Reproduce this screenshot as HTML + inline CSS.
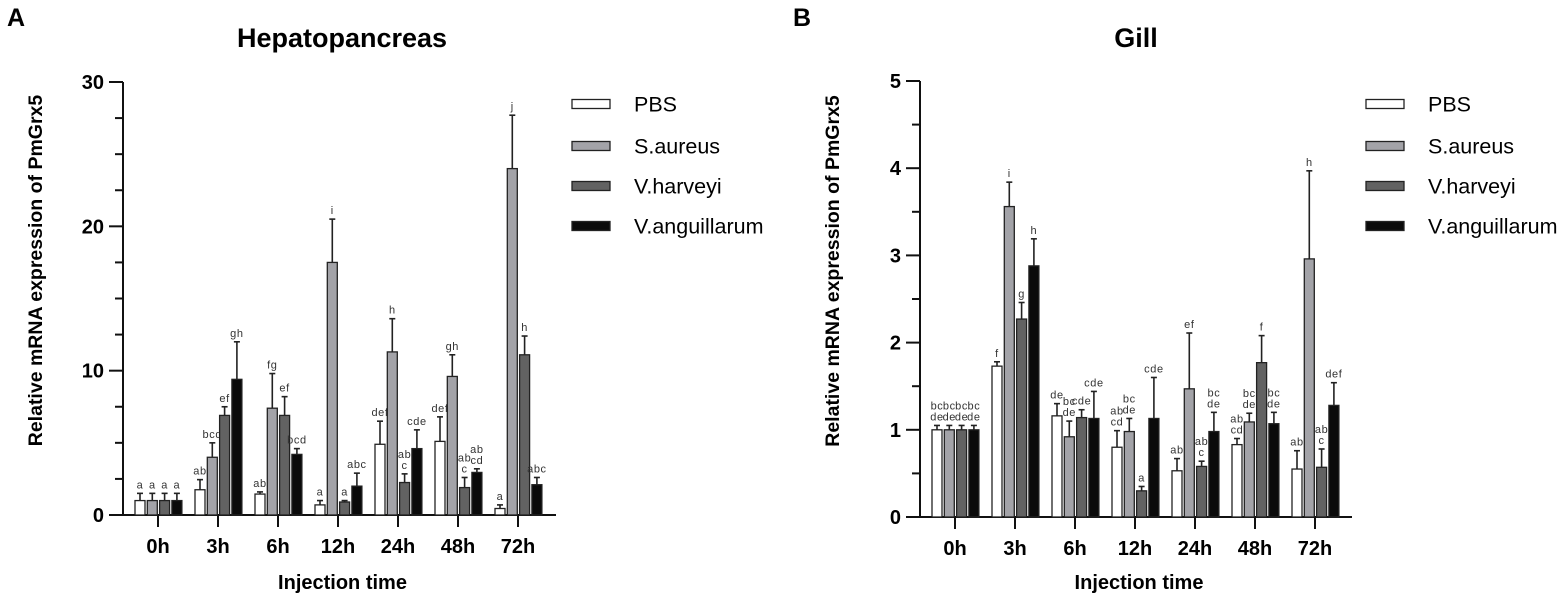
<!DOCTYPE html>
<html><head><meta charset="utf-8"><style>
body{margin:0;background:#fff;width:1559px;height:594px;overflow:hidden}
svg{display:block;font-family:"Liberation Sans",Arial,sans-serif}
</style></head><body>
<svg id="c" width="1559" height="594" xmlns="http://www.w3.org/2000/svg"></svg>
<script>
const categories=["0h","3h","6h","12h","24h","48h","72h"];
const seriesNames=["PBS","S.aureus","V.harveyi","V.anguillarum"];
const colors=["#ffffff","#a3a3a8","#626262","#0a0a0a"];
// Panel A values [series][category]
const hepPBS=[1,1.75,1.45,0.7,4.9,5.1,0.45];
const hepSA=[1,4.0,7.4,17.5,11.3,9.6,24.0];
const hepVH=[1,6.9,6.9,0.9,2.25,1.9,11.1];
const hepVA=[1,9.4,4.2,2.0,4.6,2.95,2.1];
const hepPBSerr=[1.5,2.45,1.6,1.0,6.5,6.8,0.7];
const hepSAerr=[1.5,5.0,9.8,20.5,13.6,11.1,27.7];
const hepVHerr=[1.5,7.5,8.2,1.0,2.85,2.6,12.4];
const hepVAerr=[1.5,12.0,4.6,2.9,5.9,3.2,2.6];
const hepLabels=[["a","ab","ab","a","def","def","a"],["a","bcd","fg","i","h","gh","j"],["a","ef","ef","a","ab|c","ab|c","h"],["a","gh","bcd","abc","cde","ab|cd","abc"]];
// Panel B values
const gilPBS=[1,1.73,1.16,0.8,0.53,0.83,0.55];
const gilSA=[1,3.56,0.92,0.98,1.47,1.09,2.96];
const gilVH=[1,2.27,1.14,0.3,0.58,1.77,0.57];
const gilVA=[1,2.88,1.13,1.13,0.98,1.07,1.28];
const gilPBSerr=[1.05,1.78,1.3,0.99,0.67,0.9,0.76];
const gilSAerr=[1.05,3.84,1.1,1.13,2.11,1.19,3.97];
const gilVHerr=[1.05,2.46,1.23,0.35,0.64,2.08,0.78];
const gilVAerr=[1.05,3.19,1.44,1.6,1.2,1.2,1.54];
const gilLabels=[["bc|de","f","de","ab|cd","ab","ab|cd","ab"],["bc|de","i","bc|de","bc|de","ef","bc|de","h"],["bc|de","g","cde","a","ab|c","f","ab|c"],["bc|de","h","cde","cde","bc|de","bc|de","def"]];
const hepTicks=[0,10,20,30];
const gilTicks=[0,1,2,3,4,5];

const svg=document.getElementById('c');
const NS="http://www.w3.org/2000/svg";
function mk(tag,attrs,txt){const e=document.createElementNS(NS,tag);for(const k in attrs)e.setAttribute(k,attrs[k]);if(txt!==undefined)e.textContent=txt;svg.appendChild(e);return e;}

function panel(o){
  const yS=v=>o.y0-(v/o.max)*(o.y0-o.yTop);
  const xS=i=>o.x0+35+i*60;
  let e;
  e=mk('text',{x:o.letterX,y:26,'font-size':25,'font-weight':'bold'},o.letter);
  
  
  e=mk('text',{x:o.titleX,y:47,'font-size':27,'font-weight':'bold','text-anchor':'middle'},o.title);
  
  
  e=mk('line',{x1:o.x0,y1:o.yTop,x2:o.x0,y2:o.y0,stroke:'#111','stroke-width':2});
  
  
  for(let v=0;v<=o.max+1e-9;v+=o.minor){
    const major=o.ticks.some(t=>Math.abs(t-v)<1e-9);
    e=mk('line',{x1:o.x0-(major?14:8),y1:yS(v),x2:o.x0,y2:yS(v),stroke:'#111','stroke-width':2});
    
    
  }
  o.ticks.forEach(t=>{
    e=mk('text',{x:o.x0-19,y:yS(t)+7,'font-size':20,'font-weight':'bold','text-anchor':'end'},t);
    
    
  });
  e=mk('text',{x:0,y:0,'font-size':19.5,'font-weight':'bold','text-anchor':'middle',transform:`translate(${o.x0-81},${(o.yTop+o.y0)/2-28}) rotate(-90)`},'Relative mRNA expression of PmGrx5');
  
  
  e=mk('line',{x1:o.x0,y1:o.y0,x2:o.xEnd,y2:o.y0,stroke:'#111','stroke-width':2});
  
  
  categories.forEach((c,i)=>{
    e=mk('line',{x1:xS(i),y1:o.y0,x2:xS(i),y2:o.y0+12,stroke:'#111','stroke-width':2});
    
    
    e=mk('text',{x:xS(i),y:o.y0+38,'font-size':20,'font-weight':'bold','text-anchor':'middle'},c);
    
    
  });
  e=mk('text',{x:(o.x0+o.xEnd)/2+3,y:589,'font-size':20,'font-weight':'bold','text-anchor':'middle'},'Injection time');
  
  
  o.vals.forEach((ser,s)=>{
    ser.forEach((v,i)=>{
      const bx=xS(i)-23+s*12.3;
      const top=yS(v), et=yS(o.errs[s][i]);
      const cx=bx+5;
      e=mk('line',{x1:cx,y1:top,x2:cx,y2:et,stroke:'#222','stroke-width':1.6});
      
      
      e=mk('line',{x1:cx-3,y1:et,x2:cx+3,y2:et,stroke:'#222','stroke-width':1.6});
      
      
      e=mk('rect',{x:bx,y:top,width:10,height:o.y0-top,fill:colors[s],stroke:'#222','stroke-width':1.3});
      
      
      const lines=o.labels[s][i].split('|');
      lines.forEach((l,k)=>{
        e=mk('text',{x:cx,y:et-5-(lines.length-1-k)*11,'font-size':11,'text-anchor':'middle',fill:'#333','letter-spacing':'0.6'},l);
        
        
      });
    });
  });
  const ly=[104,146,186,226];
  seriesNames.forEach((n,s)=>{
    e=mk('rect',{x:o.legX,y:ly[s]-4.5,width:38,height:9,fill:colors[s],stroke:'#222','stroke-width':1.3});
    
    
    e=mk('text',{x:o.legX+62,y:ly[s]+7.5,'font-size':21.5},n);
    
    
  });
}
panel({letter:'A',letterX:7,title:'Hepatopancreas',titleX:342,x0:123,xEnd:556,y0:515,yTop:82,max:30,minor:2.5,ticks:hepTicks,
  vals:[hepPBS,hepSA,hepVH,hepVA],errs:[hepPBSerr,hepSAerr,hepVHerr,hepVAerr],labels:hepLabels,legX:572});
panel({letter:'B',letterX:793,title:'Gill',titleX:1136,x0:920,xEnd:1352,y0:517,yTop:81,max:5,minor:0.5,ticks:gilTicks,
  vals:[gilPBS,gilSA,gilVH,gilVA],errs:[gilPBSerr,gilSAerr,gilVHerr,gilVAerr],labels:gilLabels,legX:1366});
</script>
</body></html>
